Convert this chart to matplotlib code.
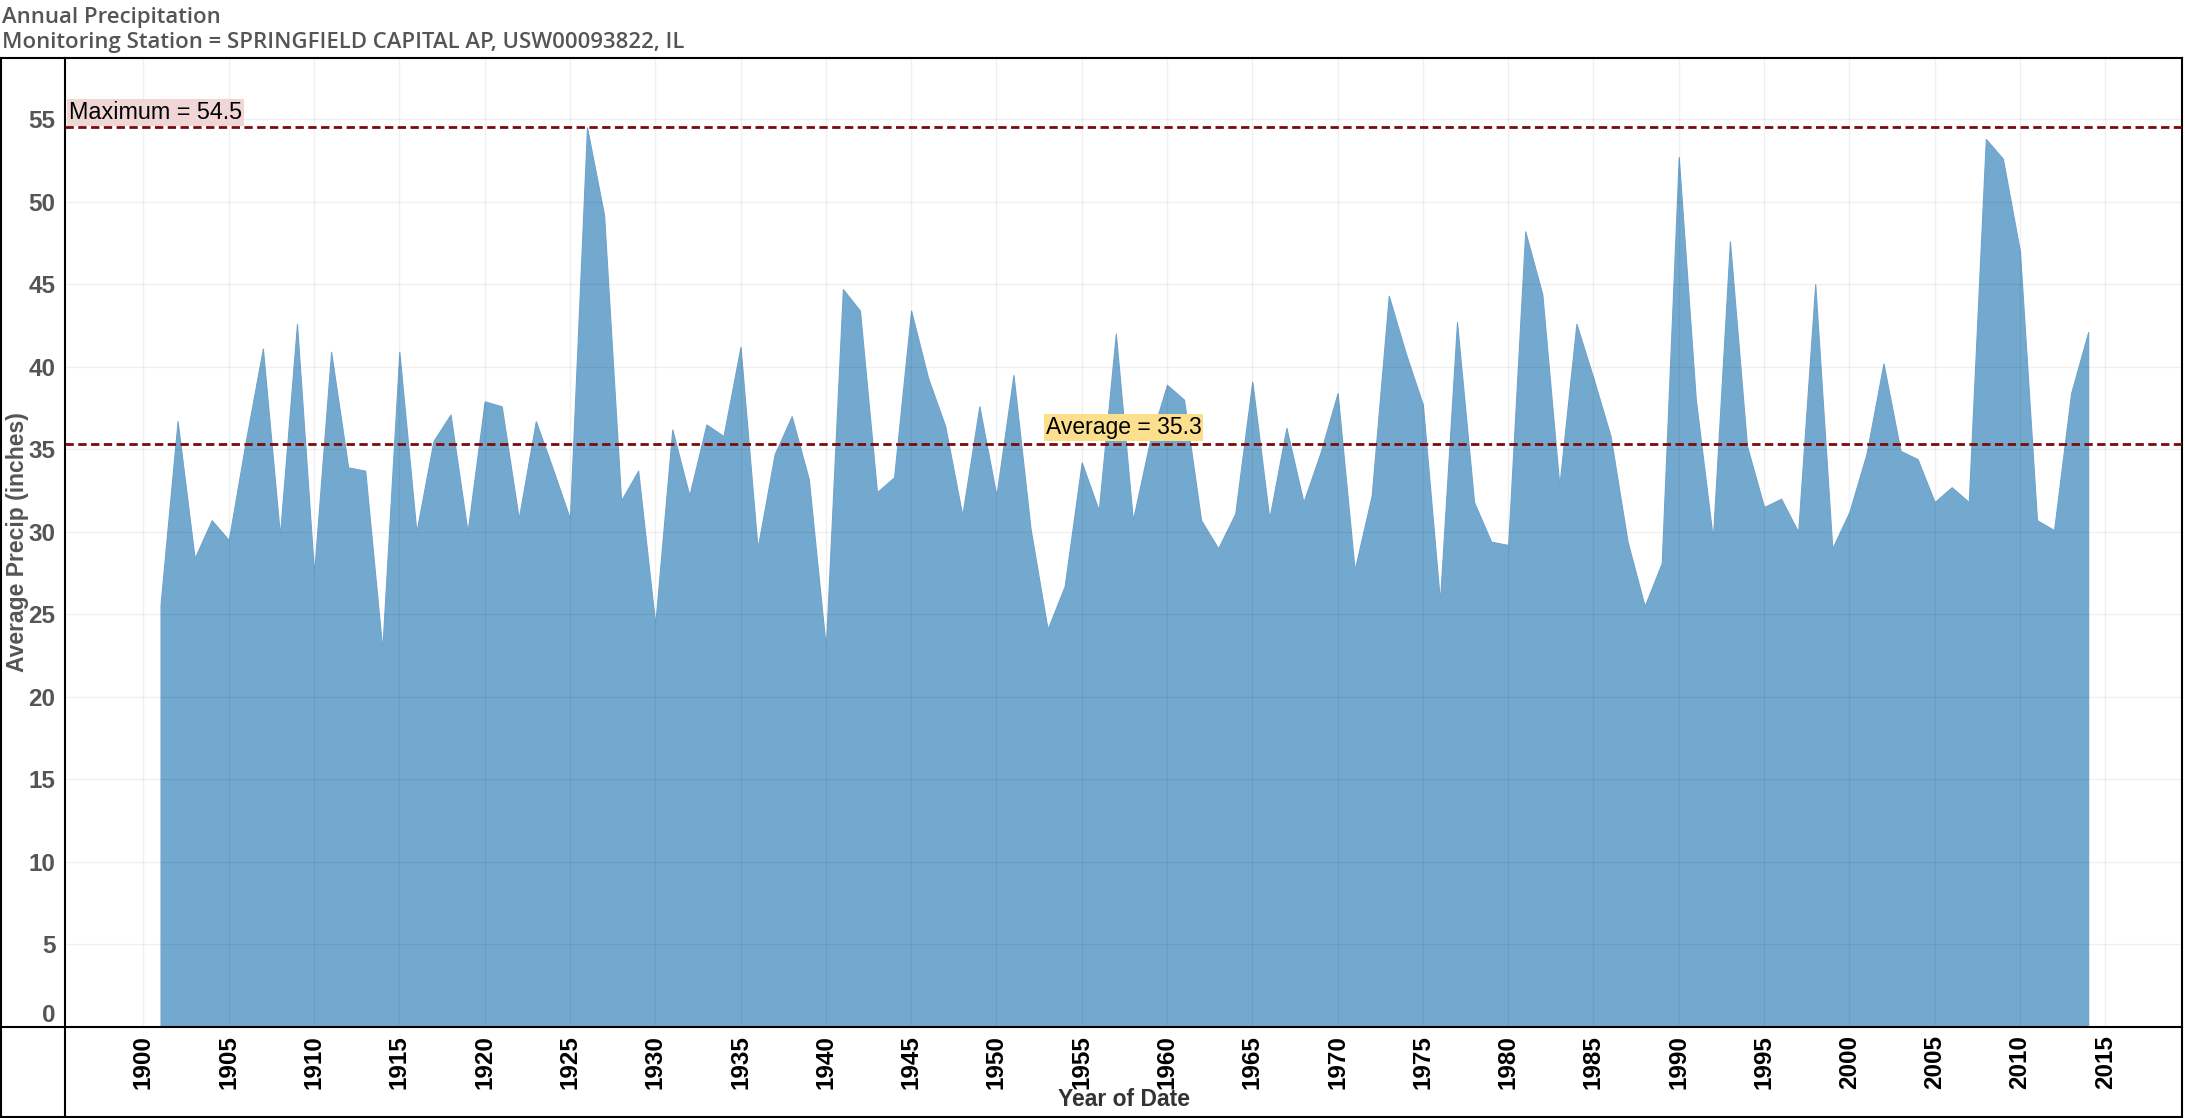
import numpy as np
import matplotlib
matplotlib.use("Agg")
import matplotlib.pyplot as plt
from matplotlib.lines import Line2D
import matplotlib.transforms as mtransforms

# annual precipitation
years = list(range(1901, 2015))
precip = [
    25.6, 36.7, 28.4, 30.7, 29.5, 35.5, 41.1, 29.8, 42.6, 27.5,
    40.9, 33.9, 33.7, 22.9, 40.9, 30.0, 35.5, 37.1, 30.0, 37.9,
    37.6, 30.8, 36.7, 33.8, 30.8, 54.5, 49.2, 31.9, 33.7, 24.4,
    36.2, 32.2, 36.5, 35.8, 41.2, 29.0, 34.7, 37.0, 33.2, 23.0,
    44.7, 43.4, 32.4, 33.3, 43.4, 39.3, 36.4, 31.0, 37.6, 32.2,
    39.5, 30.2, 24.1, 26.7, 34.2, 31.3, 42.0, 30.7, 35.5, 38.9,
    38.0, 30.7, 29.0, 31.1, 39.1, 30.8, 36.3, 31.8, 34.8, 38.4,
    27.7, 32.2, 44.3, 40.8, 37.7, 25.8, 42.7, 31.8, 29.4, 29.2,
    48.2, 44.4, 32.8, 42.6, 39.3, 35.8, 29.4, 25.5, 28.1, 52.7,
    38.0, 29.6, 47.6, 35.2, 31.5, 32.0, 30.0, 45.0, 29.0, 31.2,
    34.7, 40.2, 34.9, 34.4, 31.8, 32.7, 31.8, 53.8, 52.6, 47.0,
    30.7, 30.1, 38.4, 42.1,
]
x_ticks = list(range(1900, 2016, 5))
y_ticks = list(range(0, 56, 5))

title_1 = "Annual Precipitation"
title_2 = "Monitoring Station = SPRINGFIELD CAPITAL AP, USW00093822, IL"

W, H = 2185, 1118
fig = plt.figure(figsize=(W / 100, H / 100), dpi=100)

# plot pane in pixel coords
left, right, top, bottom = 65, 2182, 58, 1027
ax = fig.add_axes([left / W, 1 - bottom / H, (right - left) / W, (bottom - top) / H])

ax.fill_between(years, precip, 0, color="#74a9cf", lw=0.8, edgecolor="#6fa3cb", zorder=2)

max_v = max(precip)
avg_v = np.mean(precip)
line_kw = dict(color="#7b0a0a", lw=2.0, dashes=(3.0, 1.6), zorder=4)
ax.axhline(max_v, **line_kw)
ax.axhline(avg_v, **line_kw)

ax.set_xlim(1895.4, 2019.5)
ax.set_ylim(0, 58.7)
ax.set_xticks(x_ticks)
ax.set_yticks(y_ticks)
ax.grid(True, color="#000000", alpha=0.06, lw=1, zorder=3)
ax.set_axisbelow(False)

ax.tick_params(length=0)
ax.tick_params(axis="x", pad=6, rotation=90)
ax.tick_params(axis="y", pad=7)
for lab in ax.get_xticklabels():
    lab.set_fontfamily("Liberation Sans")
    lab.set_fontweight("bold")
    lab.set_fontsize(17.5)
    lab.set_color("black")
for lab in ax.get_yticklabels():
    lab.set_fontfamily("Liberation Sans")
    lab.set_fontweight("bold")
    lab.set_fontsize(17.5)
    lab.set_color("#555555")
ax.get_yticklabels()[0].set_va("bottom")

ax.set_ylabel("Average Precip (inches)", family="Liberation Sans", weight="bold",
              fontsize=16.5, color="#555555")
ax.yaxis.set_label_coords(-(left - 18) / (right - left), 0.5)
ax.yaxis.label.set_va("center")
ax.set_xlabel("Year of Date", family="Liberation Sans", weight="bold",
              fontsize=16.5, color="#333333")
ax.xaxis.set_label_coords(0.5, -(1099 - bottom) / (bottom - top))
ax.xaxis.label.set_va("center")

for sp in ax.spines.values():
    sp.set_color("black")
    sp.set_linewidth(1.5)

trans = mtransforms.blended_transform_factory(ax.transAxes, ax.transData)
ax.annotate("Maximum = %.1f" % max_v, xy=(0, max_v), xycoords=trans,
            xytext=(4, 3), textcoords="offset pixels", ha="left", va="bottom",
            family="Liberation Sans", fontsize=16.8, color="black", zorder=6,
            bbox=dict(boxstyle="square,pad=0.08", fc="#f1d6d6", ec="none"))
ax.annotate("Average = %.1f" % avg_v, xy=(0.5, avg_v), xycoords=trans,
            xytext=(0, 5), textcoords="offset pixels", ha="center", va="bottom",
            family="Liberation Sans", fontsize=16.5, color="black", zorder=6,
            bbox=dict(boxstyle="square,pad=0.08", fc="#fbdf8d", ec="none"))

# outer table frame
def fline(x0, y0, x1, y1):
    fig.add_artist(Line2D([x0 / W, x1 / W], [1 - y0 / H, 1 - y1 / H],
                          transform=fig.transFigure, color="black", lw=1.5))

fline(1, top, 1, H - 1)
fline(1, H - 1, right, H - 1)
fline(right, bottom, right, H - 1)
fline(1, top, left, top)
fline(1, bottom, left, bottom)
fline(left, bottom, left, H - 1)

fig.text(2 / W, 1 - 23 / H, title_1, family="Open Sans", fontsize=15.9,
         color="#555555", va="baseline", ha="left", weight="semibold")
fig.text(2 / W, 1 - 48 / H, title_2, family="Open Sans", fontsize=15.9,
         color="#555555", va="baseline", ha="left", weight="semibold")

fig.savefig("out.png", dpi=100)
